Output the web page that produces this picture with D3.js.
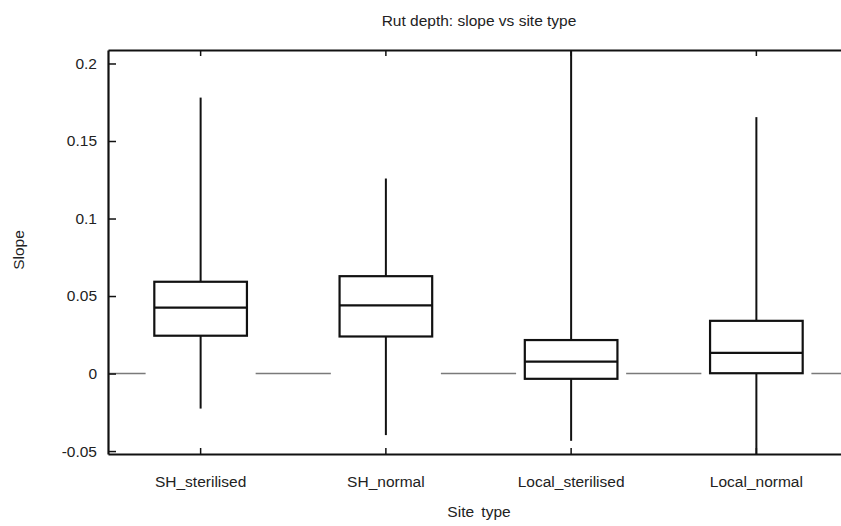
<!DOCTYPE html>
<html>
<head>
<meta charset="utf-8">
<script src="https://cdn.jsdelivr.net/npm/d3@7"></script>
<style>
    body { margin: 0; background: #ffffff; }
    svg { display: block; }
    text { font-family: "Liberation Sans", Arial, sans-serif; fill: #222; }
</style>
</head>
<body>
<svg id="chart" width="841" height="526"></svg>
<script>
"use strict";

// categories on the x axis
var categories = ["SH_sterilised", "SH_normal", "Local_sterilised", "Local_normal"];

// box statistics per category
var whiskerLow  = [-0.0226, -0.0397, -0.0434, -0.060];
var quartile1   = [ 0.0244,  0.0239, -0.0034,  0.0002];
var medians     = [ 0.0425,  0.0440,  0.0077,  0.0133];
var quartile3   = [ 0.0592,  0.0628,  0.0216,  0.0340];
var whiskerHigh = [ 0.1780,  0.1258,  0.2300,  0.1654];

// y axis ticks
var yTicks = [-0.05, 0, 0.05, 0.1, 0.15, 0.2];
var yTickLabels = ["-0.05", "0", "0.05", "0.1", "0.15", "0.2"];

var boxes = categories.map(function(c, i) {
    return {
        name: c,
        lo: whiskerLow[i],
        q1: quartile1[i],
        med: medians[i],
        q3: quartile3[i],
        hi: whiskerHigh[i]
    };
});

var svg = d3.select("#chart");

// plot frame (the right side runs off the picture)
var plotLeft = 108, plotTop = 50, plotBottom = 454, plotRight = 849;

var x = d3.scaleBand()
    .domain(categories)
    .range([plotLeft, plotRight])
    .paddingInner(0)
    .paddingOuter(0);

var y = d3.scaleLinear()
    .domain([-0.0519, 0.2087])
    .range([plotBottom, plotTop]);

var step = x.step();
var boxWidth = step * 0.5;
var gapHalf = step * 0.297;

function cx(d) { return x(d) + x.bandwidth() / 2; }

svg.append("clipPath")
    .attr("id", "plotClip")
    .append("rect")
    .attr("x", plotLeft)
    .attr("y", plotTop)
    .attr("width", plotRight - plotLeft)
    .attr("height", plotBottom - plotTop);

var plot = svg.append("g").attr("clip-path", "url(#plotClip)");

// grey zero line, broken around each box
var zeroSegs = [];
var prev = plotLeft;
categories.forEach(function(c) {
    zeroSegs.push([prev, cx(c) - gapHalf]);
    prev = cx(c) + gapHalf;
});
zeroSegs.push([prev, plotRight]);

plot.selectAll("line.zero")
    .data(zeroSegs)
    .enter()
    .append("line")
    .attr("class", "zero")
    .attr("x1", function(d) { return d[0]; })
    .attr("x2", function(d) { return d[1]; })
    .attr("y1", y(0))
    .attr("y2", y(0))
    .attr("stroke", "#7a7a7a")
    .attr("stroke-width", 1.5);

var g = plot.selectAll("g.box")
    .data(boxes)
    .enter()
    .append("g")
    .attr("class", "box");

// whiskers
g.append("line")
    .attr("x1", function(d) { return cx(d.name); })
    .attr("x2", function(d) { return cx(d.name); })
    .attr("y1", function(d) { return y(d.q3); })
    .attr("y2", function(d) { return y(d.hi); })
    .attr("stroke", "#111")
    .attr("stroke-width", 2);

g.append("line")
    .attr("x1", function(d) { return cx(d.name); })
    .attr("x2", function(d) { return cx(d.name); })
    .attr("y1", function(d) { return y(d.q1); })
    .attr("y2", function(d) { return y(d.lo); })
    .attr("stroke", "#111")
    .attr("stroke-width", 2);

// boxes
g.append("rect")
    .attr("x", function(d) { return cx(d.name) - boxWidth / 2; })
    .attr("y", function(d) { return y(d.q3); })
    .attr("width", boxWidth)
    .attr("height", function(d) { return y(d.q1) - y(d.q3); })
    .attr("fill", "none")
    .attr("stroke", "#111")
    .attr("stroke-width", 2.2);

// medians
g.append("line")
    .attr("x1", function(d) { return cx(d.name) - boxWidth / 2; })
    .attr("x2", function(d) { return cx(d.name) + boxWidth / 2; })
    .attr("y1", function(d) { return y(d.med); })
    .attr("y2", function(d) { return y(d.med); })
    .attr("stroke", "#111")
    .attr("stroke-width", 2.2);

// axes
var fontSize = "15.5px";

var yAxis = d3.axisLeft(y)
    .tickValues(yTicks)
    .tickFormat(function(d, i) { return yTickLabels[i]; })
    .tickSizeInner(-8)
    .tickSizeOuter(0)
    .tickPadding(11);

var xAxis = d3.axisBottom(x)
    .tickSizeInner(-6)
    .tickSizeOuter(0)
    .tickPadding(22);

var xTop = d3.axisTop(x)
    .tickSizeInner(-6)
    .tickSizeOuter(0)
    .tickFormat("");

function styleAxis(sel) {
    sel.select(".domain").attr("stroke", "#111").attr("stroke-width", 2.2);
    sel.selectAll(".tick line").attr("stroke", "#111").attr("stroke-width", 1.5);
    sel.selectAll(".tick text")
        .attr("fill", "#222")
        .style("font-size", fontSize)
        .style("font-family", "'Liberation Sans', Arial, sans-serif");
}

svg.append("g")
    .attr("transform", "translate(0," + plotBottom + ")")
    .call(xAxis)
    .call(styleAxis);

svg.append("g")
    .attr("transform", "translate(0," + plotTop + ")")
    .call(xTop)
    .call(styleAxis);

svg.append("g")
    .attr("transform", "translate(" + plotLeft + ",0)")
    .call(yAxis)
    .call(styleAxis);

// titles
svg.append("text")
    .attr("x", 479)
    .attr("y", 26)
    .attr("text-anchor", "middle")
    .style("font-size", fontSize)
    .text("Rut depth: slope vs site type");

svg.append("text")
    .attr("x", 479)
    .attr("y", 517)
    .attr("text-anchor", "middle")
    .style("font-size", fontSize)
    .style("word-spacing", "3px")
    .text("Site type");

svg.append("text")
    .attr("transform", "translate(24,250) rotate(-90)")
    .attr("text-anchor", "middle")
    .style("font-size", fontSize)
    .text("Slope");
</script>
</body>
</html>
